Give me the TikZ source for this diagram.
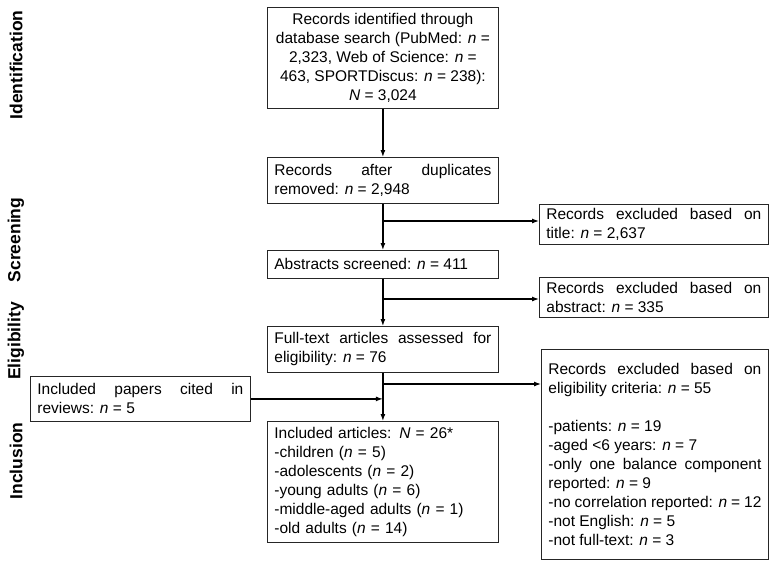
\documentclass[tikz,border=0pt]{standalone}
\usepackage{fontspec}
\setmainfont{Liberation Sans}
\usetikzlibrary{arrows.meta}
\newcommand{\nv}{\textit{n}}
\newcommand{\Nv}{\textit{N}}
\begin{document}
\begin{tikzpicture}[x=1pt, y=-1pt,
    box/.style={draw=black!85, line width=0.8pt, anchor=north west, inner xsep=7pt, inner ysep=0pt,
        font=\fontsize{15.5}{19}\selectfont, align=justify},
    stage/.style={rotate=90, font=\fontsize{17.5}{20}\selectfont\bfseries},
    flow/.style={line width=1.2pt, -{Latex[length=7pt,width=5pt]}}]
    \useasboundingbox (0, 0) rectangle (772, 566);
    \node[stage] (s1) at (16, 65) {Identification};
    \node[stage] (s2) at (16, 240) {Screening};
    \node[stage] (s3) at (16, 341) {Eligibility};
    \node[stage] (s4) at (16, 461) {Inclusion};
    \node[box, align=center, inner xsep=0pt, minimum width=231pt, minimum height=101pt] (id) at (267, 7)
        {Records identified through\\ database search (PubMed: \nv{} =\\ 2,323, Web of Science: \nv{} =\\ 463, SPORTDiscus: \nv{} = 238):\\ \Nv{} = 3,024};
    \node[box, text width=217pt, minimum height=46pt] (dup) at (267, 157)
        {Records after duplicates\linebreak removed: \nv{} = 2,948};
    \node[box, text width=215pt, minimum height=40pt] (xt) at (539, 204)
        {Records excluded based on\linebreak title: \nv{} = 2,637};
    \node[box, text width=217pt, minimum height=28pt] (abs) at (267, 250)
        {Abstracts screened: \nv{} = 411};
    \node[box, text width=215pt, minimum height=40pt] (xa) at (539, 277)
        {Records excluded based on\linebreak abstract: \nv{} = 335};
    \node[box, text width=217pt, minimum height=46pt] (full) at (267, 326)
        {Full-text articles assessed for\linebreak eligibility: \nv{} = 76};
    \node[box, text width=206pt, minimum height=45pt] (pap) at (30, 376)
        {Included papers cited in\linebreak reviews: \nv{} = 5};
    \node[box, align=left, text width=217pt, minimum height=121pt] (inc) at (267, 421)
        {Included articles: \Nv{} = 26*\\ -children (\nv{} = 5)\\ -adolescents (\nv{} = 2)\\ -young adults (\nv{} = 6)\\
        -middle-aged adults (\nv{} = 1)\\ -old adults (\nv{} = 14)};
    \node[box, text width=213pt, minimum height=210pt] (xe) at (541, 349)
        {Records excluded based on\linebreak eligibility criteria: \nv{} = 55\\[19pt]
        -patients: \nv{} = 19\\ -aged <6 years: \nv{} = 7\\ -only one balance component\linebreak reported: \nv{} = 9\\
        -no correlation reported: \nv{} = 12\\ -not English: \nv{} = 5\\ -not full-text: \nv{} = 3};
    \coordinate (b1) at (dup.south |- 0, 221);
    \coordinate (b2) at (abs.south |- 0, 299);
    \coordinate (b3) at (full.south |- 0, 384);
    \coordinate (b4) at (full.south |- pap.east);
    \draw[flow] (id) to (dup);
    \draw[flow] (dup) to (abs);
    \draw[flow] (abs) to (full);
    \draw[flow] (full) to (inc);
    \draw[flow] (b1) to (b1 -| xt.west);
    \draw[flow] (b2) to (b2 -| xa.west);
    \draw[flow] (b3) to (b3 -| xe.west);
    \draw[flow] (pap) to (b4);
\end{tikzpicture}
\end{document}
